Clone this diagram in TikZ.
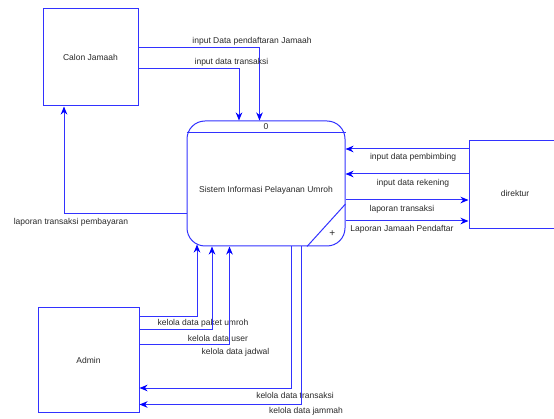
\documentclass[tikz,border=0pt]{standalone}
\usepackage{fontspec}
\setmainfont{Liberation Sans}
\usetikzlibrary{arrows.meta}
\definecolor{dfdblue}{RGB}{50,50,255}
\definecolor{tipblue}{RGB}{0,0,255}
\definecolor{txt}{RGB}{40,40,40}
\tikzset{
  ent/.style={draw=dfdblue, line width=1pt, inner sep=0pt, font=\fontsize{8.5}{10}\selectfont, text=txt},
  proc/.style={draw=dfdblue, line width=1pt, rounded corners=18pt, inner sep=0pt, font=\fontsize{8.5}{10}\selectfont, text=txt},
  flow/.style={draw=dfdblue, line width=1pt, -{Stealth[length=8pt,width=6.5pt,inset=2.5pt,color=tipblue]}},
  plain/.style={draw=dfdblue, line width=1pt},
  lbl/.style={font=\fontsize{8.5}{10}\selectfont, text=txt, inner sep=0pt}
}
\begin{document}
\begin{tikzpicture}[x=1pt,y=-1pt]
\useasboundingbox (0,0) rectangle (554,419);
\clip (0,0) rectangle (554,419);
% entities
\node[ent, minimum width=95pt, minimum height=97pt] (calon) at (90.5,57.5) {Calon Jamaah};
\node[proc, minimum width=158pt, minimum height=125pt] (proc) at (266,183.5) {};
\node[lbl] (proctext) at (266,190) {Sistem Informasi Pelayanan Umroh};
\node[lbl] (procnum) at (266,127) {0};
\node[lbl, font=\fontsize{10}{10}\selectfont] (plus) at (332.3,233.3) {+};
\node[ent, minimum width=92pt, minimum height=88pt] (dir) at (515,185) {};
\node[lbl] (dirtext) at (515,193) {direktur};
\node[ent, minimum width=101pt, minimum height=104pt] (admin) at (88.5,360) {Admin};
% process decorations
\draw[plain] (proc.west |- 0,133) -- (proc.east |- 0,133);
\draw[plain] (proc.south -| 307,0) -- (proc.east |- 0,204);
% calon -> proc
\draw[flow] (calon.east |- 0,48) -| (proc.north -| 259.5,0);
\draw[flow] (calon.east |- 0,69) -| (proc.north -| 239,0);
\node[lbl] (l1) at (252,41.5) {input Data pendaftaran Jamaah};
\node[lbl] (l2) at (231.5,62) {input data transaksi};
% proc -> calon
\draw[flow] (proc.west |- 0,214) -| (calon.south -| 64,0);
\node[lbl] (l3) at (71,222) {laporan transaksi pembayaran};
% direktur flows
\draw[flow] (dir.west |- 0,149) -- (proc.east |- 0,149);
\node[lbl] (l4) at (413,157) {input data pembimbing};
\draw[flow] (dir.west |- 0,174) -- (proc.east |- 0,174);
\node[lbl] (l5) at (413,183) {input data rekening};
\draw[flow] (proc.east |- 0,200) -- (dir.west |- 0,200);
\node[lbl] (l6) at (402,209) {laporan transaksi};
\draw[flow] (proc.east |- 0,221) -- (dir.west |- 0,221);
\node[lbl] (l7) at (402,229) {Laporan Jamaah Pendaftar};
% admin -> proc
\draw[flow] (admin.east |- 0,317) -| ([yshift=2pt]proc.south -| 197,0);
\node[lbl] (l8) at (203,323) {kelola data paket umroh};
\draw[flow] (admin.east |- 0,330) -| (proc.south -| 212,0);
\node[lbl] (l9) at (218,338) {kelola data user};
\draw[flow] (admin.east |- 0,344.5) -| (proc.south -| 229.5,0);
\node[lbl] (l10) at (235.5,352) {kelola data jadwal};
% proc -> admin
\draw[flow] (proc.south -| 291,0) |- (admin.east |- 0,388);
\node[lbl] (l11) at (295,395) {kelola data transaksi};
\draw[flow] (proc.south -| 301,0) |- (admin.east |- 0,404.5);
\node[lbl] (l12) at (306,411) {kelola data jammah};
\end{tikzpicture}
\end{document}
